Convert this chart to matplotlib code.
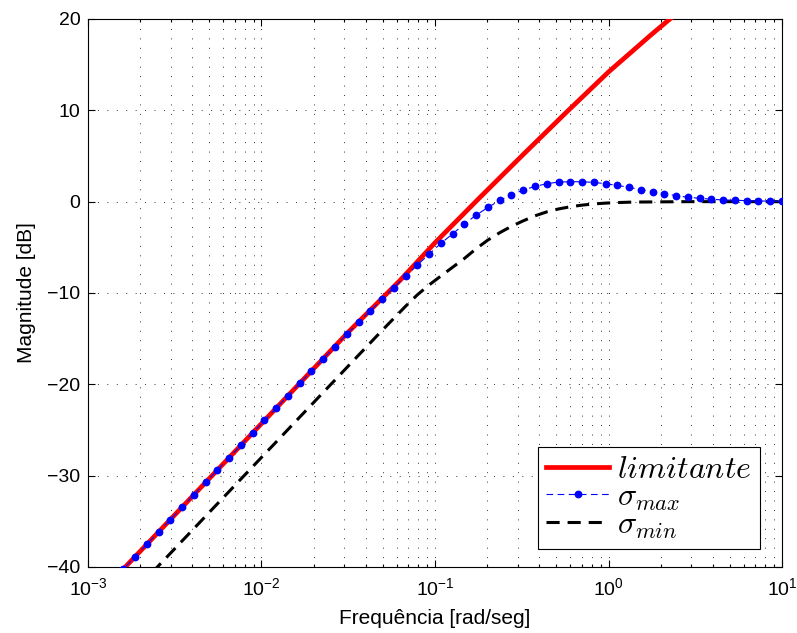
import numpy as np
import matplotlib
matplotlib.use("Agg")
import matplotlib.pyplot as plt

plt.rcParams['font.family'] = ['Liberation Sans', 'DejaVu Sans']
plt.rcParams['mathtext.fontset'] = 'cm'

# frequency grid of the singular value sweep [rad/s]
freq = np.logspace(-3, 1, 60)

sigma_max_db = [-44.30, -42.94, -41.59, -40.23, -38.88, -37.52, -36.16, -34.81,
                -33.45, -32.10, -30.74, -29.38, -28.03, -26.67, -25.32, -23.96,
                -22.61, -21.25, -19.89, -18.55, -17.20, -15.86, -14.52, -13.20,
                -11.95, -10.68, -9.40, -8.15, -6.94, -5.74, -4.57, -3.52,
                -2.45, -1.47, -0.63, 0.14, 0.76, 1.27, 1.67, 1.96,
                2.15, 2.18, 2.18, 2.11, 1.96, 1.78, 1.56, 1.31,
                1.09, 0.88, 0.66, 0.48, 0.37, 0.26, 0.19, 0.15,
                0.11, 0.07, 0.06, 0.04]

sigma_min_db = [-48.00, -46.64, -45.29, -43.93, -42.58, -41.22, -39.86, -38.51,
                -37.15, -35.80, -34.44, -33.08, -31.73, -30.37, -29.02, -27.66,
                -26.31, -24.95, -23.59, -22.24, -20.88, -19.53, -18.17, -16.81,
                -15.46, -14.10, -12.78, -11.45, -10.20, -9.12, -8.14, -7.18,
                -6.22, -5.15, -4.20, -3.40, -2.70, -2.10, -1.55, -1.12,
                -0.80, -0.56, -0.38, -0.25, -0.16, -0.10, -0.06, -0.04,
                -0.03, -0.02, -0.01, 0.0, 0.0, 0.0, 0.0, 0.0,
                0.0, 0.0, 0.0, 0.0]

# bound curve
lim_freq = [1e-3, 1e-2, 3.16e-2, 6.3e-2, 0.1, 0.178, 0.316, 0.562, 1.0, 1.78, 2.5]
lim_db = [-44.3, -24.3, -14.3, -8.6, -4.5, 0.3, 5.0, 9.65, 14.2, 18.35, 20.7]

fig = plt.figure(figsize=(7.97, 6.33), dpi=100)
ax = fig.add_axes([0.1104, 0.1043, 0.8708, 0.8657])

ax.semilogx(lim_freq, lim_db, color='#ff0000', lw=3.4, label=r'$limitante$', zorder=3)
ax.semilogx(freq, sigma_max_db, color='#0000ff', lw=0.8, ls=(0, (6, 4)),
            marker='o', ms=4.6, mec='#0000ff', mfc='#0000ff',
            label=r'$\sigma_{max}$', zorder=4)
ax.semilogx(freq, sigma_min_db, color='black', lw=2.2, ls=(0, (4.3, 2.6)),
            label=r'$\sigma_{min}$', zorder=3)

ax.set_xlim(1e-3, 1e1)
ax.set_ylim(-40, 20)
ax.set_yticks([-40, -30, -20, -10, 0, 10, 20])
ax.set_yticklabels(['\u221240', '\u221230', '\u221220', '\u221210', '0', '10', '20'])

ax.grid(True, which='major', axis='both', ls=(0, (1, 8.7)), lw=0.7, color='0.2')
ax.grid(True, which='minor', axis='x', ls=(0, (1, 8.7)), lw=0.7, color='0.2')

ax.tick_params(which='both', direction='in', top=True, right=True, labelsize=14,
               width=0.8, color='black')
ax.tick_params(which='major', length=5, pad=5.5)
ax.tick_params(which='minor', length=2.5)
ax.tick_params(axis='x', which='major', pad=7)
for sp in ax.spines.values():
    sp.set_linewidth(0.8)

ax.set_xlabel('Frequência [rad/seg]', fontsize=15, labelpad=7.5)
ax.set_ylabel('Magnitude [dB]', fontsize=15, labelpad=8)

leg = ax.legend(loc='lower right', bbox_to_anchor=(0.968, 0.033), borderaxespad=0,
                fontsize=23, fancybox=False, framealpha=1, edgecolor='black',
                handlelength=2.0, handletextpad=0.25, labelspacing=-0.08,
                borderpad=0.25, numpoints=1)
leg.get_frame().set_linewidth(0.8)

fig.savefig('out.png', dpi=100)
